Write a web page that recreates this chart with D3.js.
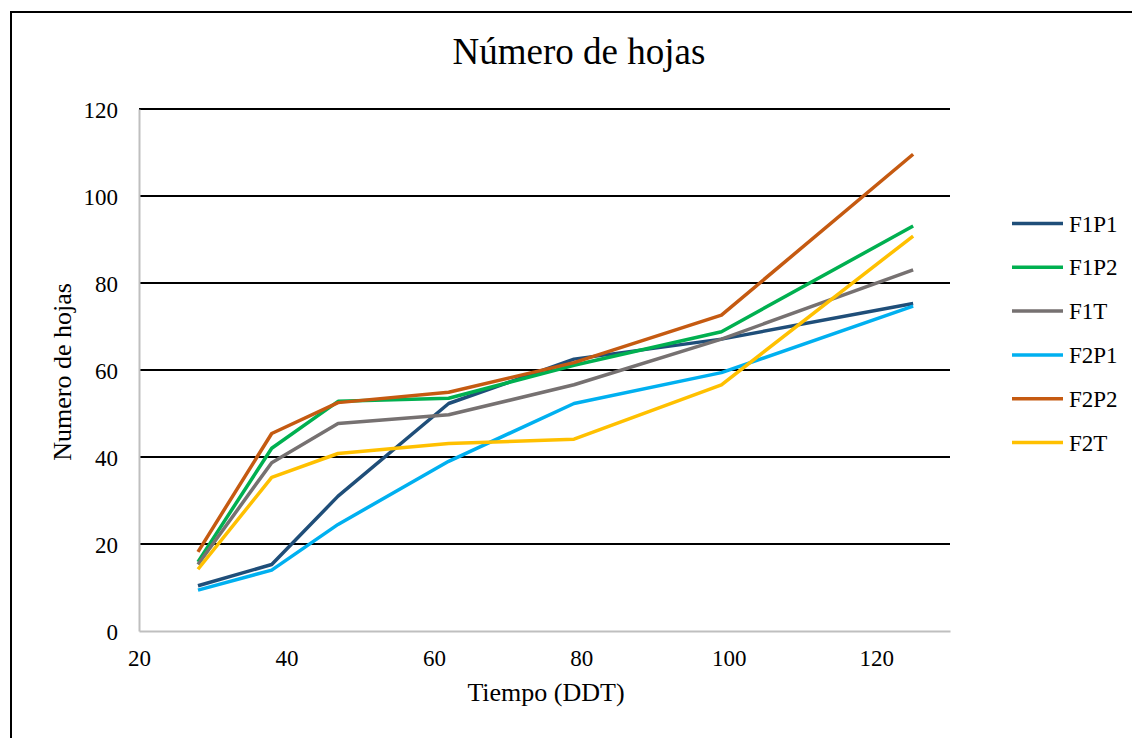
<!DOCTYPE html>
<html>
<head>
<meta charset="utf-8">
<script src="https://cdn.jsdelivr.net/npm/d3@7"></script>
<style>
  body { margin: 0; background: #fff; }
  text { font-family: "Liberation Serif", "Times New Roman", serif; fill: #000; }
</style>
</head>
<body>
<div id="chart-area"></div>
<script>
const days = [28, 38, 47, 62, 79, 99, 125];
const seriesNames = ["F1P1", "F1P2", "F1T", "F2P1", "F2P2", "F2T"];
const f1p1 = [10.4, 15.3, 31.0, 52.3, 62.5, 67.1, 75.3];
const f1p2 = [15.9, 42.0, 52.8, 53.5, 61.1, 68.8, 93.1];
const f1t = [15.3, 38.7, 47.7, 49.7, 56.6, 67.1, 83.0];
const f2p1 = [9.4, 14.0, 24.5, 39.0, 52.3, 59.4, 74.7];
const f2p2 = [18.2, 45.4, 52.5, 54.9, 61.7, 72.6, 109.6];
const f2t = [14.2, 35.3, 40.8, 43.1, 44.1, 56.6, 90.8];
const xTicks = [20, 40, 60, 80, 100, 120];
const yTicks = [0, 20, 40, 60, 80, 100, 120];

const colors = ["#1F4E79", "#00B050", "#767171", "#00B0F0", "#C55A11", "#FFC000"];
const allValues = [f1p1, f1p2, f1t, f2p1, f2p2, f2t];

const chartSize = { width: 1132, height: 738 };
const plot = { left: 139, top: 109, right: 950, bottom: 631 };

const main = () => {
  const svg = d3
    .select("#chart-area")
    .append("svg")
    .attr("width", chartSize.width)
    .attr("height", chartSize.height);

  svg
    .append("rect")
    .attr("x", 11)
    .attr("y", 12)
    .attr("width", 1140)
    .attr("height", 740)
    .attr("fill", "#fff")
    .attr("stroke", "#000")
    .attr("stroke-width", 2);

  const x = d3.scaleLinear().domain([20, 130]).range([plot.left, plot.right]);
  const y = d3.scaleLinear().domain([0, 120]).range([plot.bottom, plot.top]);

  // horizontal gridlines
  svg
    .append("g")
    .attr("class", "grid")
    .selectAll("line")
    .data(yTicks.filter(t => t > 0))
    .join("line")
    .attr("x1", plot.left)
    .attr("x2", plot.right)
    .attr("y1", d => y(d))
    .attr("y2", d => y(d))
    .attr("stroke", "#000")
    .attr("stroke-width", 2);

  const yAxis = svg
    .append("g")
    .attr("class", "y axis")
    .attr("transform", `translate(${plot.left}, 0)`)
    .call(d3.axisLeft(y).tickValues(yTicks).tickSize(0).tickPadding(21));
  yAxis.select(".domain").attr("stroke", "#BFBFBF").attr("stroke-width", 2);
  yAxis.selectAll("text").style("font-size", "23px").attr("dy", "0.35em");

  const xAxis = svg
    .append("g")
    .attr("class", "x axis")
    .attr("transform", `translate(0, ${plot.bottom})`)
    .call(d3.axisBottom(x).tickValues(xTicks).tickSize(0).tickPadding(19));
  xAxis.select(".domain").attr("stroke", "#BFBFBF").attr("stroke-width", 2);
  xAxis.selectAll("text").style("font-size", "23px").attr("dy", "0.71em");

  const line = d3
    .line()
    .x((d, i) => x(days[i]))
    .y(d => y(d));

  svg
    .append("g")
    .attr("class", "series")
    .selectAll("path")
    .data(allValues)
    .join("path")
    .attr("d", d => line(d))
    .attr("fill", "none")
    .attr("stroke", (d, i) => colors[i])
    .attr("stroke-width", 3.5)
    .attr("stroke-linejoin", "round");

  svg
    .append("text")
    .attr("x", 579)
    .attr("y", 64)
    .attr("text-anchor", "middle")
    .style("font-size", "37px")
    .text("Número de hojas");

  svg
    .append("text")
    .attr("x", 546)
    .attr("y", 701)
    .attr("text-anchor", "middle")
    .style("font-size", "26px")
    .text("Tiempo (DDT)");

  svg
    .append("text")
    .attr("transform", "rotate(-90)")
    .attr("x", -372)
    .attr("y", 71)
    .attr("text-anchor", "middle")
    .style("font-size", "26px")
    .text("Numero de hojas");

  const legend = svg
    .append("g")
    .attr("class", "legend")
    .selectAll("g")
    .data(seriesNames)
    .join("g")
    .attr("transform", (d, i) => `translate(1012, ${223.5 + i * 43.8})`);

  legend
    .append("line")
    .attr("x1", 0)
    .attr("x2", 51)
    .attr("stroke", (d, i) => colors[i])
    .attr("stroke-width", 3.5);

  legend
    .append("text")
    .attr("x", 57)
    .attr("dy", "0.35em")
    .style("font-size", "23px")
    .text(d => d);
};

window.onload = main;
</script>
</body>
</html>
